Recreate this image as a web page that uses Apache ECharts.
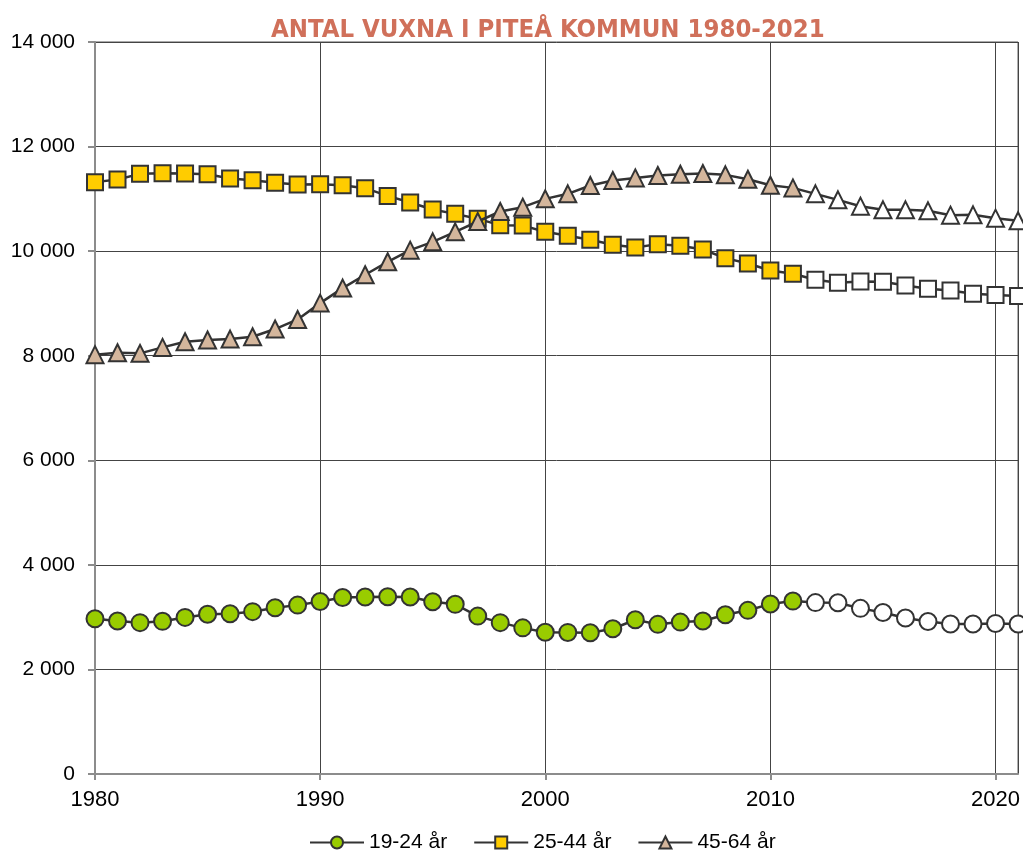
<!DOCTYPE html>
<html>
<head>
<meta charset="utf-8">
<script src="https://cdn.jsdelivr.net/npm/echarts@6/dist/echarts.min.js"></script>
<style>html,body{margin:0;padding:0;background:#fff}#c{width:1023px;height:858px}</style>
</head>
<body>
<div id="c"></div>
<script>
const years = [1980,1981,1982,1983,1984,1985,1986,1987,1988,1989,1990,1991,1992,1993,1994,1995,1996,1997,1998,1999,2000,2001,2002,2003,2004,2005,2006,2007,2008,2009,2010,2011,2012,2013,2014,2015,2016,2017,2018,2019,2020,2021];
const age19_24 = [2970,2925,2895,2920,2995,3055,3065,3105,3180,3230,3300,3375,3385,3390,3385,3295,3245,3020,2895,2795,2710,2708,2702,2778,2950,2862,2905,2925,3046,3130,3250,3307,3278,3275,3168,3090,2983,2918,2868,2868,2880,2868];
const age25_44 = [11320,11370,11478,11490,11484,11471,11390,11357,11306,11274,11280,11261,11204,11057,10930,10796,10713,10618,10497,10490,10369,10293,10217,10121,10070,10134,10102,10032,9866,9764,9631,9567,9452,9395,9420,9414,9344,9280,9248,9185,9159,9140];
const age45_64 = [8020,8057,8045,8159,8268,8300,8318,8363,8510,8694,9006,9293,9548,9796,10019,10178,10369,10567,10758,10841,11000,11096,11255,11350,11401,11446,11471,11484,11459,11376,11261,11210,11096,10981,10860,10790,10790,10771,10688,10694,10631,10580];
const seriesNames = ['19-24 år','25-44 år','45-64 år'];
const forecastFrom = 2012;
const yTicks = [0,2000,4000,6000,8000,10000,12000,14000];

const fills = ['#99cc00','#ffcc00','#d4b69c'];
const symbols = ['circle','rect','triangle'];
const sizes = [17,16,17];
const values = [age19_24, age25_44, age45_64];

function build(vals, fill){
  return years.map((y,i)=>({
    value:[y, vals[i]],
    itemStyle:{color: y>=forecastFrom ? '#ffffff' : fill}
  }));
}

const chart = echarts.init(document.getElementById('c'), null, {renderer:'canvas'});
const font = '"Liberation Sans", Arial, sans-serif';
chart.setOption({
  animation:false,
  backgroundColor:'#ffffff',
  title:{
    text:'ANTAL VUXNA I PITEÅ KOMMUN 1980-2021',
    left:266, top:12,
    textStyle:{color:'#d0705a', fontSize:25.5, fontWeight:'bold', fontFamily:'"Liberation Sans Narrow", "DejaVu Sans Condensed", sans-serif'}
  },
  grid:{left:95, right:2, top:42, bottom:84, show:true, borderColor:'#555', borderWidth:1},
  legend:{
    bottom:0, left:304, itemWidth:54, itemHeight:15, itemGap:26,
    textStyle:{fontSize:21, color:'#000', fontFamily:font},
    data:seriesNames
  },
  xAxis:{
    type:'value', min:1980, max:2021, interval:10,
    axisLine:{show:true, onZero:false, lineStyle:{color:'#8c8c8c', width:2}},
    axisTick:{show:true, length:6, lineStyle:{color:'#8c8c8c', width:2}},
    axisLabel:{showMaxLabel:false, margin:15, fontSize:22, color:'#000', fontFamily:font, formatter:v=>String(v)},
    splitLine:{show:true, lineStyle:{color:'#444', width:1}}
  },
  yAxis:{
    type:'value', min:0, max:14000, interval:2000,
    axisLine:{show:true, lineStyle:{color:'#8c8c8c', width:2}},
    axisTick:{show:true, length:7, lineStyle:{color:'#8c8c8c', width:2}},
    axisLabel:{margin:20, fontSize:21, color:'#000', fontFamily:font,
      formatter:v=>yTicks.includes(v) ? String(v).replace(/\B(?=(\d{3})+(?!\d))/g,' ') : ''},
    splitLine:{show:true, lineStyle:{color:'#444', width:1}}
  },
  series: seriesNames.map((n,k)=>({
    name:n, type:'line',
    data: build(values[k], fills[k]),
    symbol: symbols[k], symbolSize: sizes[k],
    lineStyle:{color:'#333', width:2.5},
    itemStyle:{color:fills[k], borderColor:'#333', borderWidth:2},
    emphasis:{disabled:true},
    z: k===1 ? 3 : (k===2 ? 4 : 2)
  }))
});
</script>
</body>
</html>
